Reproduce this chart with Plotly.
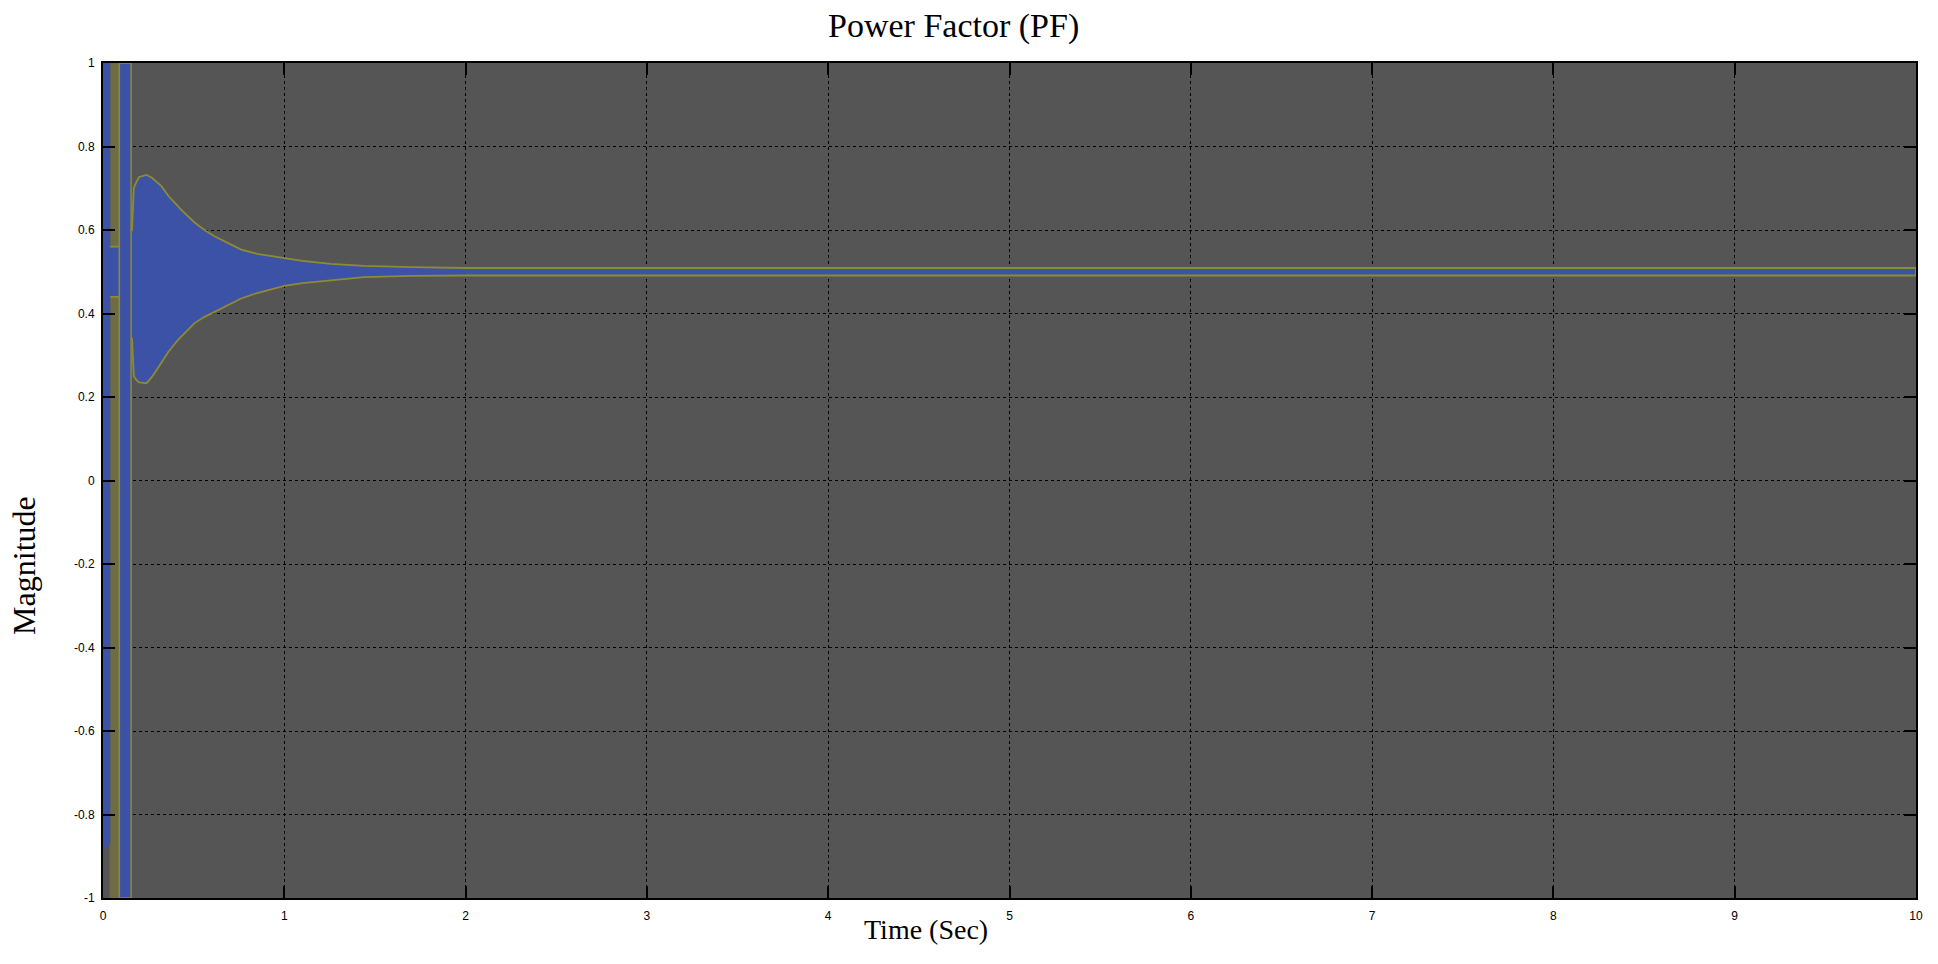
import plotly.graph_objects as go

# envelope of the blue PF trace
t_env = [0.0, 0.09, 0.155, 0.16, 0.17, 0.185, 0.20, 0.24, 0.27, 0.304, 0.322, 0.36, 0.414,
         0.432, 0.505, 0.56, 0.615, 0.725, 0.762, 0.85, 1.0, 1.1, 1.257, 1.44, 1.7, 2.0, 10.0]
upper_env = [0.56, 0.56, 0.60, 0.60, 0.70, 0.716, 0.727, 0.732, 0.725, 0.712, 0.705, 0.682,
             0.655, 0.648, 0.618, 0.600, 0.585, 0.560, 0.553, 0.543, 0.532, 0.526, 0.519,
             0.514, 0.511, 0.509, 0.509]
lower_env = [0.44, 0.44, 0.34, 0.34, 0.25, 0.24, 0.235, 0.233, 0.248, 0.270, 0.281, 0.308,
             0.337, 0.345, 0.377, 0.392, 0.404, 0.428, 0.436, 0.449, 0.466, 0.473, 0.480,
             0.487, 0.490, 0.491, 0.491]

# start-up transient columns
col1_t = [0.0, 0.038]
col1_lo = [-0.885, -0.87]
col1_hi = [1.0, 1.0]

col2_t = [0.09, 0.155]
col2_lo = [-1.0, -1.0]
col2_hi = [1.0, 1.0]

strip_t = [0.038, 0.09]
strip_lo = [-1.0, -1.0]
strip_hi = [1.0, 1.0]

x_ticks = [0, 1, 2, 3, 4, 5, 6, 7, 8, 9, 10]
y_ticks = [-1, -0.8, -0.6, -0.4, -0.2, 0, 0.2, 0.4, 0.6, 0.8, 1]
y_labels = ['-1', '-0.8', '-0.6', '-0.4', '-0.2', '0', '0.2', '0.4', '0.6', '0.8', '1']

BLUE = '#3b52a6'
OLIVE = '#8f8b32'
SERIF = 'Liberation Serif, Times New Roman, serif'


def band(t, lo, hi, fill, edge, width=1.5):
    xs = list(t) + list(t)[::-1] + [t[0]]
    ys = list(hi) + list(lo)[::-1] + [hi[0]]
    return go.Scatter(x=xs, y=ys, mode='lines', fill='toself', fillcolor=fill,
                      line=dict(color=edge, width=width), hoverinfo='skip', showlegend=False)


fig = go.Figure()
fig.add_trace(band(strip_t, strip_lo, strip_hi, '#6e6b45', '#6e6b45', 0.5))
fig.add_trace(band(t_env, lower_env, upper_env, BLUE, OLIVE, 1.8))
fig.add_trace(band(col1_t, col1_lo, col1_hi, BLUE, BLUE, 0.5))
fig.add_trace(band(col2_t, col2_lo, col2_hi, BLUE, OLIVE, 1.5))

axis_common = dict(
    showline=True, linecolor='black', linewidth=2, mirror='ticks',
    ticks='inside', ticklen=12, tickwidth=2, tickcolor='black',
    showgrid=True, gridcolor='black', gridwidth=1.2, griddash='dot',
    zeroline=False,
    tickfont=dict(family='Liberation Sans, Arial', size=12, color='black'),
)

# axis titles sit off-centre in the original, so they are placed as annotations
fig.add_annotation(text='Time (Sec)', xref='paper', yref='paper', x=0.454, y=-0.038,
                   xanchor='center', yanchor='middle', showarrow=False,
                   font=dict(family=SERIF, size=28, color='black'))
fig.add_annotation(text='Magnitude', xref='paper', yref='paper', x=-0.044, y=0.398,
                   xanchor='center', yanchor='middle', showarrow=False, textangle=-90,
                   font=dict(family=SERIF, size=32, color='black'))

fig.update_layout(
    width=1922, height=948,
    margin=dict(l=95, r=7, t=55, b=58),
    paper_bgcolor='white',
    plot_bgcolor='#555555',
    title=dict(text='Power Factor (PF)', x=0.492, xanchor='center', y=0.982, yanchor='middle',
               font=dict(family=SERIF, size=34, color='black')),
    xaxis=dict(range=[0, 10], tickvals=x_ticks, ticklabelstandoff=6, **axis_common),
    yaxis=dict(range=[-1, 1], tickvals=y_ticks, ticktext=y_labels, ticklabelstandoff=4,
               **axis_common),
)

fig.write_html('out.html')
